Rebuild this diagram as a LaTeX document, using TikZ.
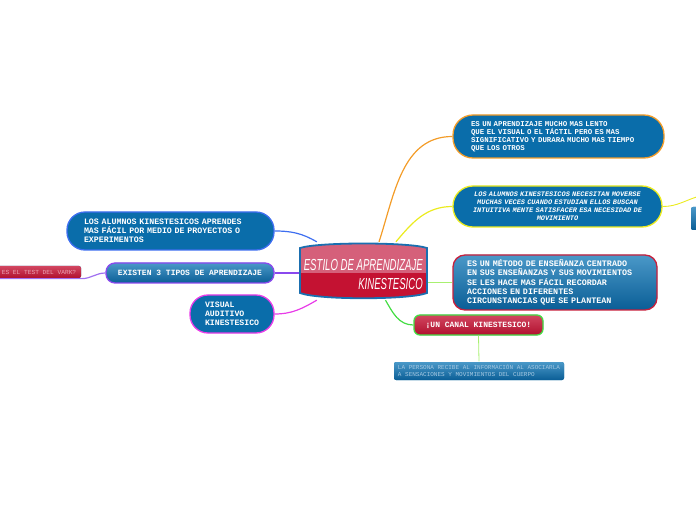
\documentclass[tikz,border=0pt]{standalone}
\usepackage{fontspec}
\setmonofont{Liberation Mono}
\newfontfamily\titlefont[FakeStretch=0.6]{Liberation Sans}
\usetikzlibrary{calc}

\definecolor{nodeblue}{HTML}{0A6DAA}
\definecolor{bluetop}{HTML}{4A98C8}
\definecolor{bluebottom}{HTML}{0A5E96}
\definecolor{crimson}{HTML}{C41232}
\definecolor{crimsonlight}{HTML}{D5607A}
\definecolor{redtop}{HTML}{D24660}
\definecolor{redbottom}{HTML}{B0102E}
\definecolor{rootline}{HTML}{1A6FB0}
\definecolor{orangeline}{HTML}{F39C28}
\definecolor{yellowline}{HTML}{EBEB1E}
\definecolor{lightgreenline}{HTML}{A8F070}
\definecolor{greenline}{HTML}{44DD44}
\definecolor{blueline}{HTML}{3D6EF0}
\definecolor{purpleline}{HTML}{8A48EE}
\definecolor{lilacline}{HTML}{A070F0}
\definecolor{magentaline}{HTML}{E83CE8}
\definecolor{methodline}{HTML}{C8203C}
\definecolor{infotext}{HTML}{A4C8E2}
\definecolor{varktext}{HTML}{EAA4B4}

\begin{document}
\begin{tikzpicture}[x=1pt, y=1pt,
	bubble/.style={shape=rectangle, fill=nodeblue, line width=1.3pt, text=white, inner sep=0pt, align=left},
	glossblue/.style={top color=bluetop, bottom color=bluebottom},
	glossred/.style={top color=redtop, bottom color=redbottom},
	wire/.style={line width=1.2pt}]
	\useasboundingbox (0,0) rectangle (696,520);
	% Nodes:
	\node[bubble, draw=orangeline, rounded corners=20pt, minimum width=211pt, minimum height=43pt, text width=175pt, font=\ttfamily\bfseries\fontsize{7.4}{8}\selectfont] (slow) at (558.5,383.5){ES UN APRENDIZAJE MUCHO MAS LENTO\\QUE EL VISUAL O EL TÁCTIL PERO ES MAS\\SIGNIFICATIVO Y DURARA MUCHO MAS TIEMPO\\QUE LOS OTROS};
	\node[bubble, draw=yellowline, rounded corners=20pt, minimum width=209pt, minimum height=41pt, text width=185pt, align=center, font=\ttfamily\bfseries\itshape\fontsize{6.9}{8}\selectfont] (need) at (557.5,313.5){LOS ALUMNOS KINESTESICOS NECESITAN MOVERSE\\MUCHAS VECES CUANDO ESTUDIAN ELLOS BUSCAN\\INTUITIVA MENTE SATISFACER ESA NECESIDAD DE\\MOVIMIENTO};
	\node[bubble, glossblue, draw=methodline, rounded corners=12pt, minimum width=204pt, minimum height=55pt, text width=176pt, font=\ttfamily\bfseries\fontsize{8.4}{9.2}\selectfont] (method) at (555,237.5){ES UN MÉTODO DE ENSEÑANZA CENTRADO\\EN SUS ENSEÑANZAS Y SUS MOVIMIENTOS\\SE LES HACE MAS FÁCIL RECORDAR\\ACCIONES EN DIFERENTES\\CIRCUNSTANCIAS QUE SE PLANTEAN};
	\node[bubble, glossred, draw=greenline, rounded corners=6pt, minimum width=129pt, minimum height=20pt, align=center, font=\ttfamily\bfseries\fontsize{8}{9.2}\selectfont] (canal) at (478.5,195){¡UN CANAL KINESTESICO!};
	\node[bubble, glossblue, rounded corners=2pt, minimum width=170pt, minimum height=18pt, text=infotext, font=\ttfamily\fontsize{6}{7}\selectfont] (info) at (479,149){LA PERSONA RECIBE AL INFORMACIÓN AL ASOCIARLA\\A SENSACIONES Y MOVIMIENTOS DEL CUERPO};
	\node[bubble, draw=blueline, rounded corners=18pt, minimum width=207pt, minimum height=38pt, text width=173pt, font=\ttfamily\bfseries\fontsize{8.3}{9.2}\selectfont] (proj) at (170.5,289){LOS ALUMNOS KINESTESICOS APRENDES\\MAS FÁCIL POR MEDIO DE PROYECTOS O\\EXPERIMENTOS};
	\node[bubble, glossblue, draw=purpleline, rounded corners=9pt, minimum width=168pt, minimum height=20pt, align=center, font=\ttfamily\bfseries\fontsize{8}{9.2}\selectfont] (types) at (190,247){EXISTEN 3 TIPOS DE APRENDIZAJE};
	\node[bubble, glossred, rounded corners=2pt, minimum width=84pt, minimum height=12pt, align=center, text=varktext, font=\ttfamily\fontsize{6.2}{7}\selectfont] (vark) at (39,248){ES EL TEST DEL VARK?};
	\node[bubble, draw=magentaline, rounded corners=18pt, minimum width=84pt, minimum height=38pt, text width=54pt, font=\ttfamily\bfseries\fontsize{8.2}{9.2}\selectfont] (kinds) at (232,206){VISUAL\\AUDITIVO\\KINESTESICO};
	\node[bubble, glossblue, rounded corners=2pt, minimum width=16pt, minimum height=23pt] (edgebox) at (699,301.5){};
	\coordinate (edgeend) at (700,324);
	\node[minimum width=127pt, minimum height=58pt, inner sep=0pt] (root) at (363.5,249){};
	% Connectors:
	\draw[wire, orangeline] (root.62) to[out=72, in=180] (slow.west);
	\draw[wire, yellowline] (root.42) to[out=50, in=180] (need.west);
	\draw[wire, lightgreenline] (root.east |- method.west) -- (method.west);
	\draw[wire, greenline] (root.-53) to[out=-60, in=180] (canal.west);
	\draw[wire, lightgreenline, line width=0.8pt] (canal.south) -- (info.north);
	\draw[wire, blueline] (proj.east) to[out=0, in=150] (root.148);
	\draw[wire, purpleline] (types.east) -- (root.west |- types.east);
	\draw[wire, magentaline] (kinds.east) to[out=0, in=210] (root.212);
	\draw[wire, lilacline] (vark.south west) -- (vark.south east) to[out=0, in=180] (types.west);
	\draw[wire, yellowline, line width=0.9pt] (need.east) to[out=0, in=195] (edgeend);
	% Central topic:
	\begin{scope}
		\clip (300,227) -- (300,272) .. controls (318,278) and (409,278) .. (427,272) -- (427,227) .. controls (409,220) and (318,220) .. (300,227) -- cycle;
		\fill[crimson] (298,218) rectangle (429,280);
		\fill[crimsonlight] (298,247) rectangle (429,280);
	\end{scope}
	\draw[rootline, line width=1.8pt] (300,227) -- (300,272) .. controls (318,278) and (409,278) .. (427,272) -- (427,227) .. controls (409,220) and (318,220) .. (300,227) -- cycle;
	\node[anchor=east, text=white, align=right, inner sep=0pt, font=\titlefont\itshape\fontsize{16}{19}\selectfont] (roottitle) at (423,246){ESTILO DE APRENDIZAJE\\KINESTESICO};
\end{tikzpicture}
\end{document}
